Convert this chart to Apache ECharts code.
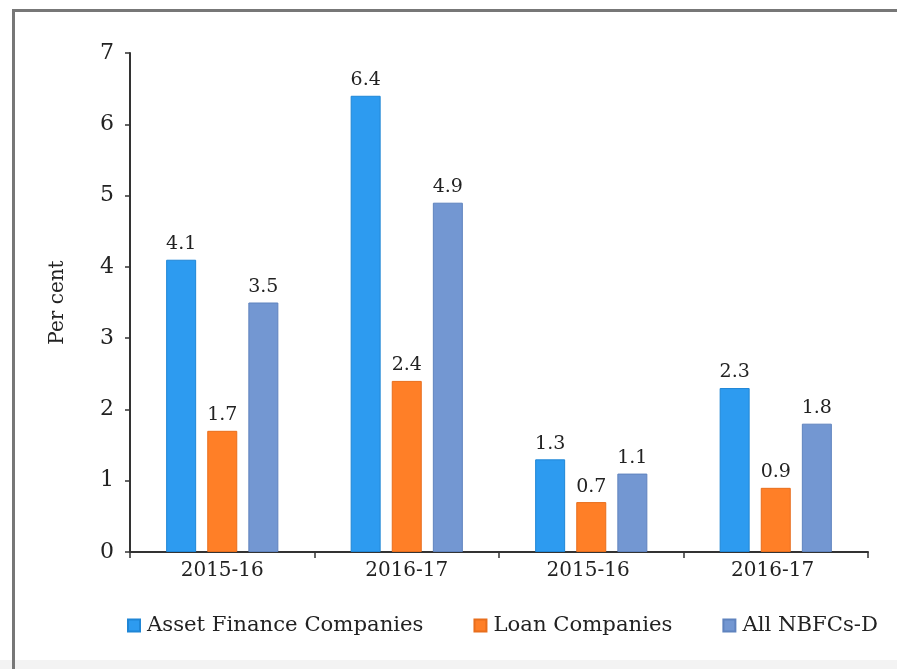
<!DOCTYPE html>
<html>
<head>
<meta charset="utf-8">
<script src="https://cdn.jsdelivr.net/npm/echarts@6/dist/echarts.min.js"></script>
<style>
html,body{margin:0;padding:0;background:#fff;overflow:hidden;}
#c{width:897px;height:669px;}
</style>
</head>
<body>
<div id="c"></div>
<script>
var categories = ['2015-16', '2016-17', '2015-16 ', '2016-17 '];
var assetFinance = [4.1, 6.4, 1.3, 2.3];
var loanCompanies = [1.7, 2.4, 0.7, 0.9];
var allNBFCs = [3.5, 4.9, 1.1, 1.8];
var seriesNames = ['Asset Finance Companies', 'Loan Companies', 'All NBFCs-D'];
var yTicks = {min: 0, max: 7, interval: 1};

var FONT = 'DejaVu Serif';
var colors = ['#2D9BF0', '#FF7F27', '#7397D2'];
var borders = ['#1F86D6', '#E86E1C', '#5F83BE'];

var chart = echarts.init(document.getElementById('c'), null, {renderer: 'canvas'});

function mkSeries(name, data, color, border) {
  return {
    name: name,
    type: 'bar',
    data: data,
    barWidth: 30,
    barGap: '37%',
    itemStyle: {color: color, borderColor: border, borderWidth: 1},
    label: {
      show: true,
      position: 'top',
      distance: 6,
      fontFamily: FONT,
      fontSize: 19,
      color: '#222'
    }
  };
}

chart.setOption({
  animation: false,
  backgroundColor: '#fff',
  color: colors,
  grid: {left: 130, right: 29, top: 53, bottom: 117},
  legend: {
    data: seriesNames,
    left: 122,
    top: 610,
    icon: 'rect',
    itemWidth: 12,
    itemHeight: 12,
    itemGap: 50,
    textStyle: {fontFamily: FONT, fontSize: 21.2, color: '#222', padding: [0, 0, 0, 2]}
  },
  xAxis: {
    type: 'category',
    data: categories,
    axisLine: {lineStyle: {color: '#333', width: 2}},
    axisTick: {show: true, length: 6, lineStyle: {color: '#333', width: 1.5}},
    axisLabel: {fontFamily: FONT, fontSize: 20, color: '#222', margin: 9}
  },
  yAxis: {
    type: 'value',
    min: yTicks.min,
    max: yTicks.max,
    interval: yTicks.interval,
    name: 'Per cent',
    nameLocation: 'middle',
    nameRotate: 90,
    nameGap: 62,
    nameTextStyle: {fontFamily: FONT, fontSize: 20, color: '#222'},
    axisLine: {show: true, lineStyle: {color: '#333', width: 2}},
    axisTick: {show: true, length: 5, lineStyle: {color: '#333', width: 1.5}},
    splitLine: {show: false},
    axisLabel: {fontFamily: FONT, fontSize: 22, color: '#222', margin: 16}
  },
  graphic: [
    {type: 'rect', shape: {x: 0, y: 660, width: 897, height: 9}, style: {fill: '#f3f3f3'}, z: -1},
    {type: 'rect', shape: {x: 12, y: 9, width: 900, height: 3}, style: {fill: '#777'}},
    {type: 'rect', shape: {x: 12, y: 9, width: 3, height: 670}, style: {fill: '#777'}}
  ],
  series: [
    mkSeries(seriesNames[0], assetFinance, colors[0], borders[0]),
    mkSeries(seriesNames[1], loanCompanies, colors[1], borders[1]),
    mkSeries(seriesNames[2], allNBFCs, colors[2], borders[2])
  ]
});
</script>
</body>
</html>
